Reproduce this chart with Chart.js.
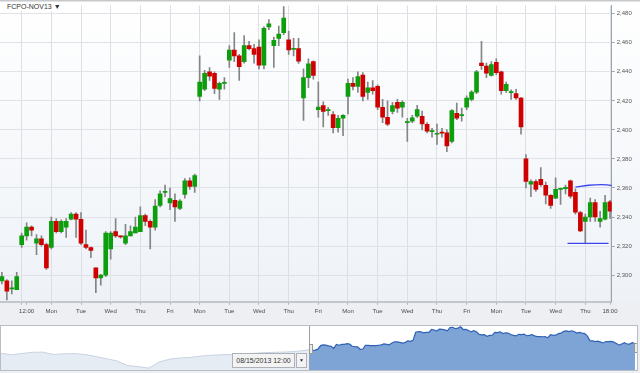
<!DOCTYPE html>
<html>
<head>
<meta charset="utf-8">
<script src="https://cdn.jsdelivr.net/npm/chart.js@4.4.1/dist/chart.umd.min.js"></script>
<style>
  html, body { margin:0; padding:0; background:#edeff3; width:640px; height:373px; overflow:hidden; font-family: Arial, "Liberation Sans", sans-serif; }
  #wrap { position:relative; width:640px; height:373px; }
  #main { position:absolute; left:0; top:0; }
  #title { position:absolute; left:0; top:2px; padding:0 3px 0 7px; height:9px; line-height:9px; font-size:7px; color:#333; background:#fff; }
  #navbox { position:absolute; left:0; top:325px; width:636px; height:44px; border:1px solid #b9bdc5; background:#fff; }
  #nav { position:absolute; left:0; top:0; }
  #datebox { position:absolute; left:232px; top:353px; width:61px; height:13px; border:1px solid #aeb2b8; background:#f3f3f3; font-size:7px; line-height:13px; color:#333; text-align:center; }
  #datebtn { position:absolute; left:296px; top:353px; width:9px; height:13px; border:1px solid #aeb2b8; background:#f3f3f3; font-size:5px; line-height:13px; color:#333; text-align:center; }
</style>
</head>
<body>
<div id="wrap">
  <canvas id="main" width="640" height="325"></canvas>
  <div id="title">FCPO-NOV13 ▼</div>
  <div id="navbox"><canvas id="nav" width="636" height="44"></canvas></div>
  <div id="datebox">08/15/2013 12:00</div>
  <div id="datebtn">▼</div>
</div>
<script>
// ---- candle data (hourly bars, index 0..123) ----
const opens  = [2296,2296,2290.5,2290,2321,2327,2333,2322,2325,2321,2319,2337,2330,2333,2338.5,2342,2338.5,2321,2319,2305,
  2298,2300,2318,2330,2326.5,2322,2327,2329,2330,2341,2337,2333,2348,2357,2349.7,2351.5,2346,2355.5,2365,2361,
  2423,2428,2440,2439,2428,2432,2448,2455,2451,2447,2458,2456,2457,2444.5,2471,2458,2463,2467,2462,2455.5,
  2456,2422,2436,2447,2414,2416.7,2413.3,2410.6,2401.5,2408,2423,2432,2430,2437.8,2425.8,2429,2430,2415.6,2408.7,2412.8,
  2419,2415.6,2405,2406,2409.4,2409.4,2403.8,2398.8,2397,2398,2398,2392,2411.5,2409.8,2415.6,2421,2426,2446,2444,2437.5,
  2446.6,2440,2427,2425.7,2425,2422,2380,2362.7,2364.5,2366,2361.8,2355,2353,2359,2359.5,2365,2357,2343,2337,2340,
  2350,2337,2338.5,2350.5];
const highs  = [2302,2297,2296,2302,2329,2336,2334,2328,2327,2322,2340,2339,2338,2339,2343,2343,2343,2331,2319.5,2305,
  2300.5,2330,2330,2339,2327,2335,2334,2340,2347,2342,2338,2352,2358,2362,2360,2356,2352,2366.4,2367,2369.5,
  2451,2441,2443,2440,2433,2436,2458,2467,2452,2465,2461,2459,2462,2471,2476,2464,2471.5,2485,2468,2463,
  2463,2442,2449,2447.5,2433,2419.4,2415.5,2412.6,2410,2410.5,2435,2436,2440,2439.4,2433,2434,2431,2421,2420,2419,
  2421,2420,2408,2410,2417,2413,2405,2401,2404,2401,2400,2414,2418.5,2415,2423.5,2427,2441,2461,2446,2447,
  2449,2440.5,2433,2427.6,2428,2422.5,2383,2365.7,2365.7,2374,2364,2355.5,2367,2360,2362,2365.5,2359.5,2344,2342,2353,
  2352,2344,2355,2351.5];
const lows   = [2294,2283,2287,2290,2319,2324,2327,2314,2320,2304,2318,2329,2329,2326,2338,2326,2321,2318,2312,2288,
  2293,2299,2311,2326,2325.5,2321,2327,2329,2330,2334,2318,2331,2347,2354,2345,2337,2345,2353,2359,2357,
  2420,2427,2434,2425,2421,2428,2443,2447,2434,2446,2455,2446,2442,2442,2469,2443,2458,2465.5,2452,2451,
  2445.7,2406.5,2429,2435,2408.7,2402,2410,2398,2398.5,2396,2411,2427.6,2425.8,2420,2421,2424.6,2414,2405,2403,2411,
  2412,2408.7,2392,2405,2408.6,2400,2398,2395,2390,2395,2385,2391,2407,2406,2414,2420,2425,2441.6,2436,2437,
  2438,2424.6,2425.8,2421,2421,2397,2360,2354,2357.7,2361,2349,2346,2352.7,2348.7,2356,2353,2342,2330,2322,2337,
  2337,2333,2338,2339];
const closes = [2299,2289,2291,2299,2327,2333,2331,2325,2321,2305,2337,2330,2337,2337,2342,2338.5,2322,2319,2317,2298,
  2300,2329,2329,2327,2326.3,2327,2330,2333,2341,2337,2333,2347.5,2356,2357.3,2352.7,2347,2351,2365,2361,2368.6,
  2433,2439,2437,2428.5,2432,2432.8,2455,2451,2443.5,2458,2456,2452,2444.5,2470,2473,2461.6,2466,2477,2455,2456,
  2447.3,2436,2445.5,2437.5,2415.8,2412.8,2413.6,2401.5,2408,2410,2432,2430,2436.7,2423,2429,2427,2415.6,2408.7,2404,2416.7,
  2415,2419,2405.5,2408.3,2414,2404.2,2399.2,2399.2,2397.3,2397.8,2389,2413.3,2408,2410.2,2422,2426,2440,2444.3,2439,2445,
  2439.4,2427,2431.4,2425.9,2422,2402,2364.5,2364.5,2359,2362.3,2355,2348,2359,2359.5,2360.5,2354.3,2343.4,2330.5,2340,2350,
  2340,2339,2350,2344];

// ---- axis ticks ----
const xTickIndex  = [4,5,10,16,22,28,34,40,46,52,58,64,70,76,82,88,94,100,106,112,118,123];
const xTickLabels = ['','12:00','Mon','Tue','Wed','Thu','Fri','Mon','Tue','Wed','Thu','Fri','Mon','Tue','Wed','Thu','Fri','Mon','Tue','Wed','Thu','18:00'];
const yTickValues = [2300,2320,2340,2360,2380,2400,2420,2440,2460,2480];

// ---- drawn level lines (value space) ----
const upperLineIdx  = [116, 118.7, 121.3, 123.2, 123.7];
const upperLineVals = [2360.7, 2361.9, 2362.3, 2361.8, 2360.8];
const lowerLineIdx  = [114.4, 122.7];
const lowerLineVals = [2321.8, 2321.8];

// ---- navigator history (every 4th bar before the window) ----
const historyStep = 4;
const historyStart = -117;
const historyCloses = [2266,2254,2264,2274,2275,2256,2262,2263,2256,2240,2222,2205,2168,2160,2148,2197,2220,2229,2234,2244,
  2250,2255,2256,2260,2266,2271,2274,2276,2282,2292];

const GREEN = '#0c9e0c', RED = '#d00000', WICK = '#858585';
const idx = opens.map((_, i) => i);

const bgPlugin = {
  id: 'bg',
  beforeDraw(chart) {
    const { ctx, chartArea, width, height } = chart;
    ctx.save();
    const g = ctx.createLinearGradient(0, 0, 0, chartArea.bottom);
    g.addColorStop(0, '#ffffff');
    g.addColorStop(1, '#eef2f7');
    ctx.fillStyle = g;
    ctx.fillRect(0, 0, width, chartArea.bottom);
    ctx.fillStyle = '#edeff3';
    ctx.fillRect(0, chartArea.bottom, width, height - chartArea.bottom);
    ctx.fillStyle = '#c6c8cc';
    ctx.fillRect(0, 0, width, 1.5);
    ctx.restore();
  }
};

new Chart(document.getElementById('main'), {
  type: 'bar',
  data: {
    datasets: [
      { label: 'range', data: idx.map(i => ({ x: i, y: [lows[i], highs[i]] })),
        backgroundColor: WICK, barThickness: 1, grouped: false, order: 3 },
      { label: 'body', data: idx.map(i => ({ x: i, y: [Math.min(opens[i], closes[i]), Math.max(opens[i], closes[i])] })),
        backgroundColor: idx.map(i => closes[i] >= opens[i] ? GREEN : RED),
        barThickness: 4, minBarLength: 1, grouped: false, order: 2 },
      { type: 'line', label: 'upper', data: upperLineIdx.map((v, k) => ({ x: v, y: upperLineVals[k] })),
        borderColor: '#3a45ee', borderWidth: 1.3, pointRadius: 0, tension: 0.4, fill: false, order: 1 },
      { type: 'line', label: 'lower', data: lowerLineIdx.map((v, k) => ({ x: v, y: lowerLineVals[k] })),
        borderColor: '#3a45ee', borderWidth: 1.3, pointRadius: 0, tension: 0, fill: false, order: 1 }
    ]
  },
  options: {
    responsive: false, animation: false,
    layout: { padding: { top: 2, left: 0, right: 0, bottom: 0 } },
    plugins: { legend: { display: false }, tooltip: { enabled: false } },
    scales: {
      x: {
        type: 'linear', min: -0.385, max: 123.34, offset: false,
        afterBuildTicks: s => { s.ticks = xTickIndex.map(v => ({ value: v })); },
        afterFit: s => { s.height = 23.3; },
        ticks: { autoSkip: false, maxRotation: 0, padding: 3, color: '#4a4a4a', font: { size: 6 },
                 callback: (v, i) => xTickLabels[i] },
        grid: { offset: false, color: c => (c.tick && c.tick.value === 5) ? 'rgba(0,0,0,0)' : '#dcdfe3',
                tickColor: '#aab0b8', tickLength: 3, lineWidth: 1 },
        border: { display: true, color: '#c3c7cd', width: 2 }
      },
      y: {
        position: 'right', min: 2281.7, max: 2485.6,
        afterBuildTicks: s => { s.ticks = yTickValues.map(v => ({ value: v })); },
        afterFit: s => { s.width = 28.3; },
        ticks: { padding: 2, color: '#555', font: { size: 6 },
                 callback: v => v.toLocaleString('en-US') },
        grid: { color: '#dfe2e6', tickColor: '#9ea4ac', tickLength: 3, lineWidth: 1 },
        border: { display: true, color: '#9ea4ac', width: 1 }
      }
    }
  },
  plugins: [bgPlugin]
});

// ---- navigator ----
const navPlugin = {
  id: 'navdeco',
  afterDatasetsDraw(chart) {
    const { ctx, scales: { x }, height } = chart;
    const left = x.getPixelForValue(-0.5);
    const right = x.getPixelForValue(123.5);
    ctx.save();
    ctx.strokeStyle = '#9a9ea6';
    ctx.lineWidth = 1;
    ctx.beginPath();
    ctx.moveTo(Math.round(left) + 0.5, 0);
    ctx.lineTo(Math.round(left) + 0.5, height);
    ctx.stroke();
    [[left, 18], [right - 2, 17]].forEach(([px, top]) => {
      ctx.fillStyle = '#ebebeb';
      ctx.fillRect(Math.round(px) + 0.5, top + 0.5, 3, 9);
      ctx.strokeStyle = '#999';
      ctx.strokeRect(Math.round(px) + 0.5, top + 0.5, 3, 9);
    });
    ctx.restore();
  }
};

const histData = historyCloses.map((v, k) => ({ x: historyStart + k * historyStep, y: v }));
histData.push({ x: 0, y: closes[0] });

new Chart(document.getElementById('nav'), {
  type: 'line',
  data: {
    datasets: [
      { data: histData, borderColor: '#c8d2e1', borderWidth: 1, backgroundColor: '#e6ecf4',
        fill: 'start', pointRadius: 0, tension: 0 },
      { data: idx.map(i => ({ x: i, y: closes[i] })), borderColor: '#2f62b6', borderWidth: 1.2,
        backgroundColor: '#7da4d5', fill: 'start', pointRadius: 0, tension: 0 }
    ]
  },
  options: {
    responsive: false, animation: false,
    layout: { padding: 0 },
    plugins: { legend: { display: false }, tooltip: { enabled: false } },
    scales: {
      x: { type: 'linear', display: false, min: -116.95, max: 123.77 },
      y: { display: false, min: 2133, max: 2483 }
    }
  },
  plugins: [navPlugin]
});
</script>
</body>
</html>
